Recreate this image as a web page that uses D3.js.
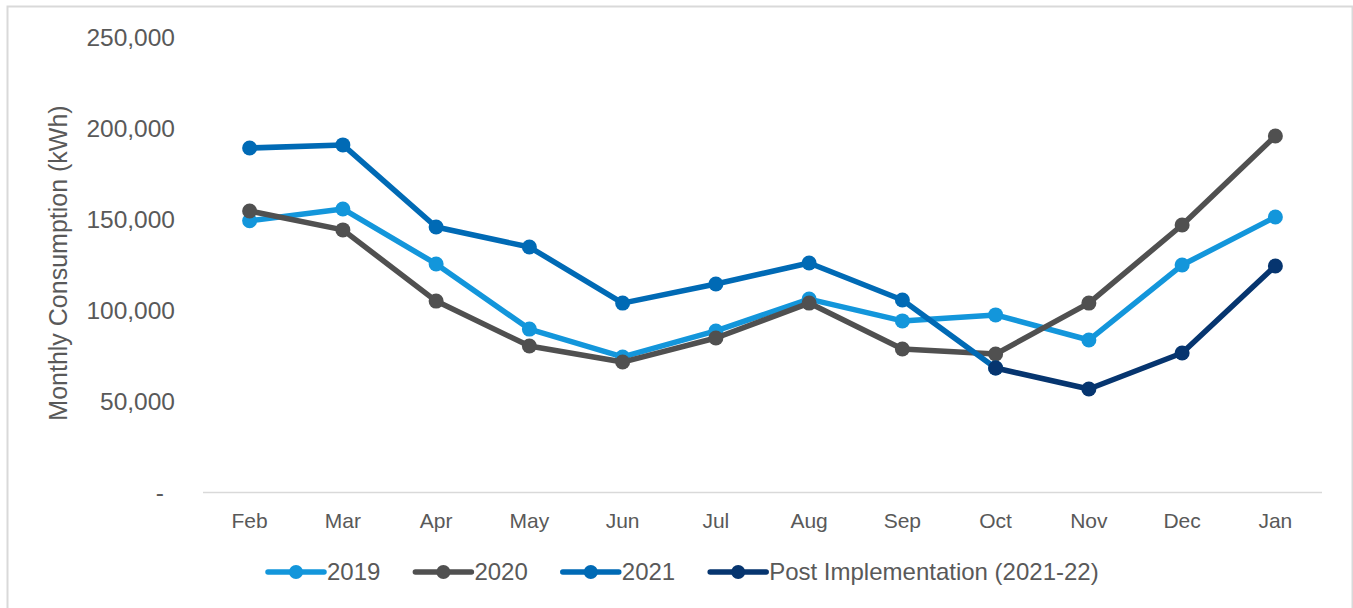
<!DOCTYPE html>
<html>
<head>
<meta charset="utf-8">
<script src="https://cdn.jsdelivr.net/npm/d3@7"></script>
<style>
  body { margin: 0; background: #fff; }
  text { font-family: "Liberation Sans", Arial, sans-serif; fill: #595959; }
</style>
</head>
<body>
<svg id="chart"></svg>
<script>
// months on the x axis
var months = ["Feb","Mar","Apr","May","Jun","Jul","Aug","Sep","Oct","Nov","Dec","Jan"]
var yTicks = [0, 50000, 100000, 150000, 200000, 250000]

// monthly consumption, kWh
var values2019 = [149000, 155500, 125300, 89500, 74200, 88500, 106000, 94000, 97300, 83500, 124700, 151100]
var values2020 = [154400, 144000, 104900, 80200, 71400, 84600, 103800, 78600, 75800, 103800, 146700, 195600]
var values2021 = [189000, 190700, 145600, 134600, 103800, 114300, 125800, 105500, 68100, null, null, null]
var valuesPost = [null, null, null, null, null, null, null, null, 68100, 56600, 76400, 124200]

var seriesNames = ["2019", "2020", "2021", "Post Implementation (2021-22)"]
var seriesColors = ["#1396DB", "#505050", "#006AB5", "#06356F"]

var series = [values2019, values2020, values2021, valuesPost].map(function(vals, i)
{
    return {name: seriesNames[i], color: seriesColors[i], values: vals}
})

var screen = {width: 1353, height: 608}
var svg = d3.select("#chart")
    .attr("width", screen.width)
    .attr("height", screen.height)

// chart area border
svg.append("rect")
    .attr("x", 7.5).attr("y", 6.5)
    .attr("width", 1345).attr("height", 620)
    .attr("fill", "none")
    .attr("stroke", "#D9D9D9")
    .attr("stroke-width", 2)

var xScale = d3.scalePoint()
    .domain(months)
    .range([203, 1322])
    .padding(0.5)

var yScale = d3.scaleLinear()
    .domain([0, 250000])
    .range([492, 37])

// x axis line + labels
svg.append("line")
    .attr("x1", 203).attr("x2", 1322)
    .attr("y1", 492.5).attr("y2", 492.5)
    .attr("stroke", "#D9D9D9")
    .attr("stroke-width", 1.5)

svg.append("g").selectAll("text")
    .data(months)
    .enter()
    .append("text")
    .attr("x", function(m){return xScale(m)})
    .attr("y", 528)
    .attr("text-anchor", "middle")
    .style("font-size", "21px")
    .text(function(m){return m})

// y tick labels
var fmt = d3.format(",")
svg.append("g").selectAll("text")
    .data(yTicks)
    .enter()
    .append("text")
    .attr("x", function(t){return t == 0 ? 164 : 175})
    .attr("y", function(t){return yScale(t)})
    .attr("dy", "0.35em")
    .attr("text-anchor", "end")
    .style("font-size", "24.5px")
    .text(function(t){return t == 0 ? "-" : fmt(t)})

svg.append("text")
    .attr("transform", "translate(67,263) rotate(-90)")
    .attr("text-anchor", "middle")
    .style("font-size", "25px")
    .text("Monthly Consumption (kWh)")

// lines and markers
var line = d3.line()
    .defined(function(d){return d != null})
    .x(function(d, i){return xScale(months[i])})
    .y(function(d){return yScale(d)})

var groups = svg.append("g").selectAll("g")
    .data(series)
    .enter()
    .append("g")

groups.append("path")
    .attr("d", function(s){return line(s.values)})
    .attr("fill", "none")
    .attr("stroke", function(s){return s.color})
    .attr("stroke-width", 5.5)
    .attr("stroke-linejoin", "round")

groups.each(function(s)
{
    var pts = s.values.map(function(v, i){return {v: v, m: months[i]}})
        .filter(function(p){return p.v != null})
    d3.select(this).selectAll("circle")
        .data(pts)
        .enter()
        .append("circle")
        .attr("cx", function(p){return xScale(p.m)})
        .attr("cy", function(p){return yScale(p.v)})
        .attr("r", 7.5)
        .attr("fill", s.color)
})

// legend
var legend = svg.append("g")
var lx = 268, ly = 572
series.forEach(function(s)
{
    var item = legend.append("g")
    item.append("line")
        .attr("x1", lx).attr("x2", lx + 56)
        .attr("y1", ly).attr("y2", ly)
        .attr("stroke", s.color)
        .attr("stroke-width", 5.5)
        .attr("stroke-linecap", "round")
    item.append("circle")
        .attr("cx", lx + 28).attr("cy", ly)
        .attr("r", 7)
        .attr("fill", s.color)
    var t = item.append("text")
        .attr("x", lx + 59)
        .attr("y", ly)
        .attr("dy", "0.35em")
        .style("font-size", "24px")
        .text(s.name)
    lx = lx + 59 + t.node().getComputedTextLength() + 35
})
</script>
</body>
</html>
